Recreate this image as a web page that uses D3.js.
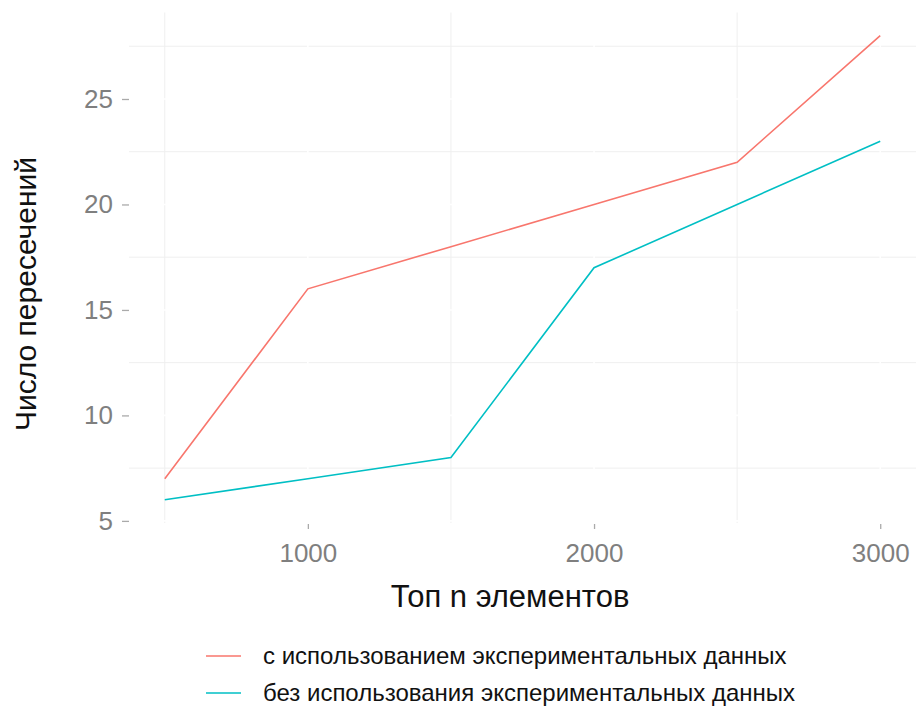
<!DOCTYPE html>
<html>
<head>
<meta charset="utf-8">
<script src="https://cdn.jsdelivr.net/npm/d3@7"></script>
<style>
  html, body { margin: 0; padding: 0; background: #fff; }
  svg { display: block; font-family: "Liberation Sans", Arial, Helvetica, sans-serif; }
</style>
</head>
<body>
<svg id="chart" width="918" height="706"></svg>
<script>
// Data: number of intersections vs. top-n elements
const topN = [500, 1000, 1500, 2000, 2500, 3000];
const withExperimental = [7, 16, 18, 20, 22, 28];
const withoutExperimental = [6, 7, 8, 17, 20, 23];
const seriesNames = [
  "с использованием экспериментальных данных",
  "без использования экспериментальных данных"
];
const seriesColors = ["#F8766D", "#00BFC4"];
const xTicks = [1000, 2000, 3000];
const xMinorTicks = [500, 1500, 2500];
const yTicks = [5, 10, 15, 20, 25];
const yMinorTicks = [7.5, 12.5, 17.5, 22.5, 27.5];

const series = [withExperimental, withoutExperimental].map((vals, i) => ({
  name: seriesNames[i],
  color: seriesColors[i],
  points: topN.map((n, j) => ({ x: n, y: vals[j] }))
}));

const svg = d3.select("#chart");
const panel = { left: 129, right: 916, top: 12.5, bottom: 523 };

// ggplot-style 5% expansion of the data ranges
const xExt = d3.extent(topN);
const xPad = (xExt[1] - xExt[0]) * 0.05;
const allY = withExperimental.concat(withoutExperimental);
const yExt = d3.extent(allY);
const yPad = (yExt[1] - yExt[0]) * 0.05;

const x = d3.scaleLinear().domain([xExt[0] - xPad, xExt[1] + xPad]).range([panel.left, panel.right]);
const y = d3.scaleLinear().domain([yExt[0] - yPad, yExt[1] + yPad]).range([panel.bottom, panel.top]);

const grid = svg.append("g");
// minor grid
grid.selectAll("line.ymin").data(yMinorTicks).join("line")
  .attr("x1", panel.left).attr("x2", panel.right)
  .attr("y1", d => y(d)).attr("y2", d => y(d))
  .attr("stroke", "#efefef").attr("stroke-width", 1);
grid.selectAll("line.xmin").data(xMinorTicks).join("line")
  .attr("y1", panel.top).attr("y2", panel.bottom)
  .attr("x1", d => x(d)).attr("x2", d => x(d))
  .attr("stroke", "#efefef").attr("stroke-width", 1);
// major grid (white)
grid.selectAll("line.ymaj").data(yTicks).join("line")
  .attr("x1", panel.left).attr("x2", panel.right)
  .attr("y1", d => y(d)).attr("y2", d => y(d))
  .attr("stroke", "#ffffff").attr("stroke-width", 1.6);
grid.selectAll("line.xmaj").data(xTicks).join("line")
  .attr("y1", panel.top).attr("y2", panel.bottom)
  .attr("x1", d => x(d)).attr("x2", d => x(d))
  .attr("stroke", "#ffffff").attr("stroke-width", 1.6);

// axes
const xAxis = svg.append("g")
  .attr("transform", `translate(0,${panel.bottom})`)
  .call(d3.axisBottom(x).tickValues(xTicks).tickSize(6).tickPadding(15).tickFormat(d3.format("d")));
const yAxis = svg.append("g")
  .attr("transform", `translate(${panel.left - 7},0)`)
  .call(d3.axisLeft(y).tickValues(yTicks).tickSize(0).tickPadding(9).tickFormat(d3.format("d")));
yAxis.selectAll(".tick").append("line")
  .attr("x1", 0).attr("x2", 7).attr("stroke", "#aaaaaa").attr("stroke-width", 1.3);

[xAxis, yAxis].forEach(a => {
  a.select(".domain").remove();
  a.selectAll(".tick line").attr("stroke", "#aaaaaa").attr("stroke-width", 1.3);
  a.selectAll(".tick text").attr("fill", "#7f7f7f").attr("font-size", 26)
    .attr("font-family", "'Liberation Sans', Arial, sans-serif");
});
xAxis.selectAll(".tick line").attr("y1", 1);

// lines
const line = d3.line().x(d => x(d.x)).y(d => y(d.y));
svg.append("g").selectAll("path").data(series).join("path")
  .attr("d", d => line(d.points))
  .attr("fill", "none")
  .attr("stroke", d => d.color)
  .attr("stroke-width", 1.6);

// axis titles
svg.append("text")
  .attr("x", 510).attr("y", 607)
  .attr("text-anchor", "middle").attr("font-size", 31).attr("fill", "#111111")
  .text("Топ n элементов");
svg.append("text")
  .attr("transform", "translate(36,294) rotate(-90)")
  .attr("text-anchor", "middle").attr("font-size", 30).attr("fill", "#111111")
  .text("Число пересечений");

// legend
const legend = svg.append("g");
const legendRows = legend.selectAll("g").data(series).join("g")
  .attr("transform", (d, i) => `translate(206,${656 + i * 37})`);
legendRows.append("line")
  .attr("x1", 0).attr("x2", 35)
  .attr("stroke", d => d.color).attr("stroke-width", 1.6);
legendRows.append("text")
  .attr("x", 57).attr("dy", "0.35em")
  .attr("font-size", 24).attr("fill", "#111111")
  .text(d => d.name);
</script>
</body>
</html>
